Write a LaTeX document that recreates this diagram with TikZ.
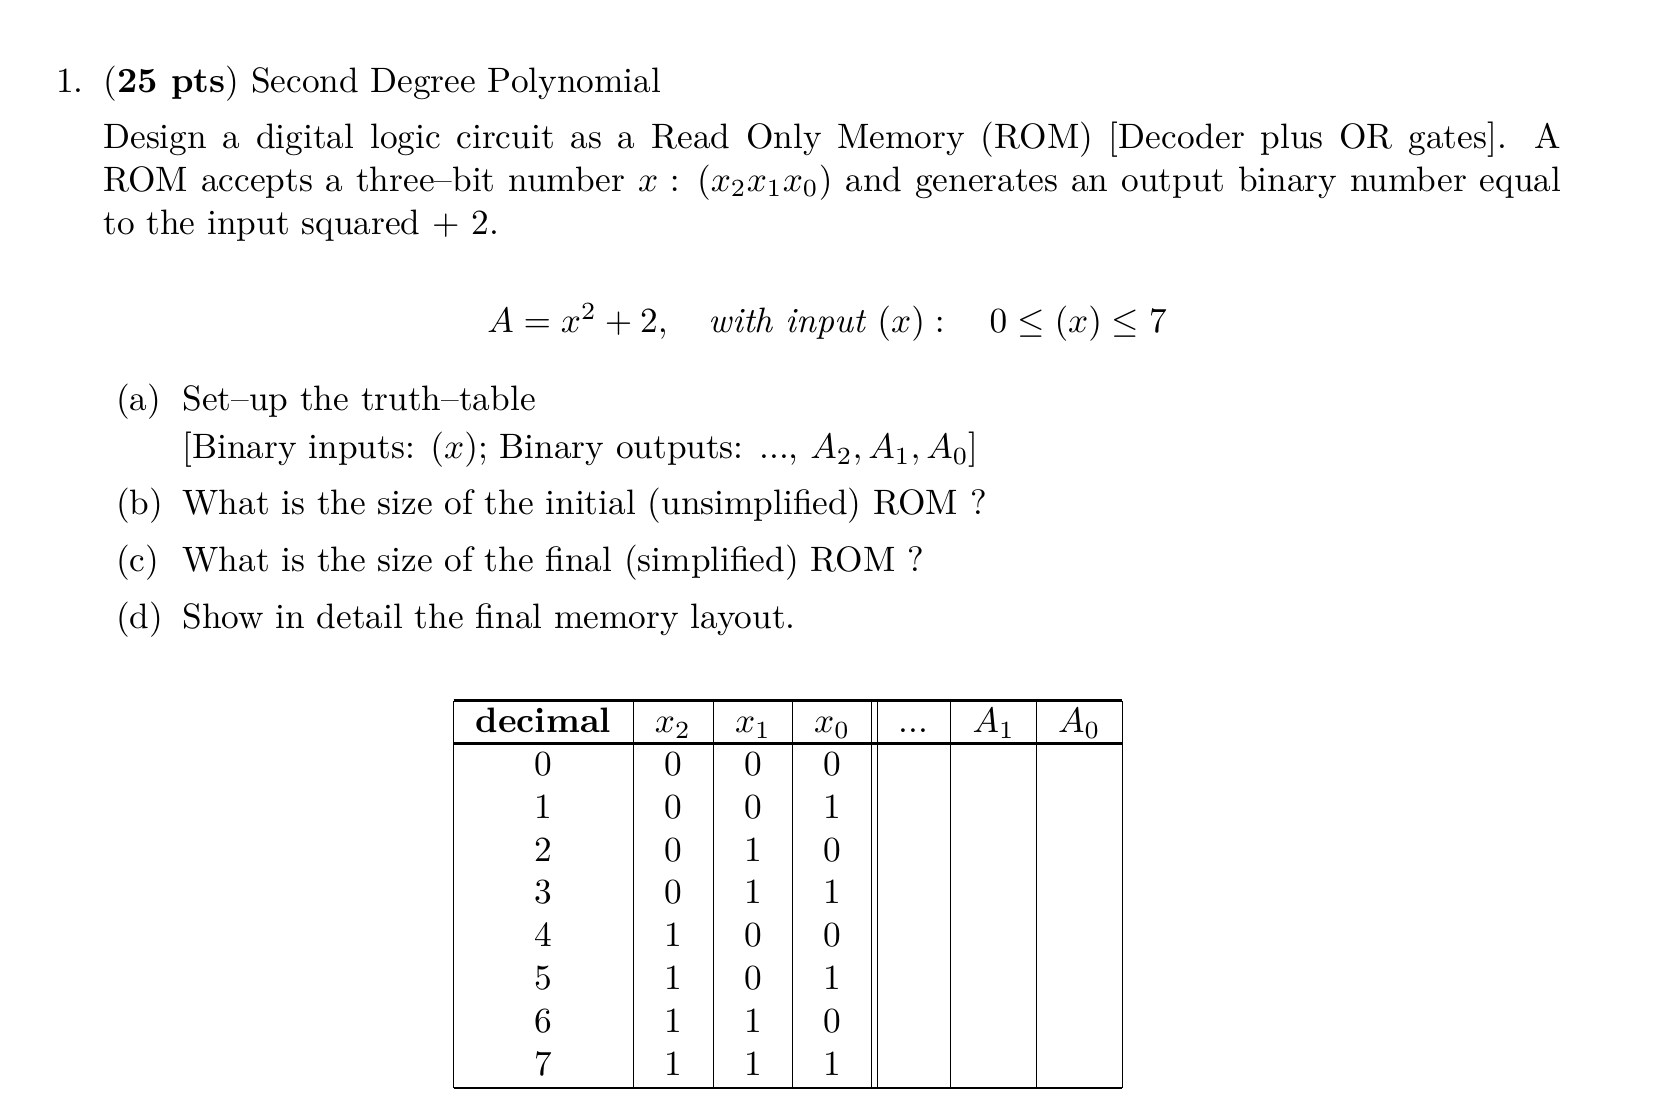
\documentclass[tikz,border=0pt]{standalone}
\usepackage{amsmath}
\begin{document}
\begin{tikzpicture}[x=0.5pt,y=-0.5pt,
  txt/.style={anchor=base west,inner sep=0pt,scale=1.65,transform shape,font=\fontsize{10}{12}\selectfont},
  cell/.style={anchor=base,inner sep=0pt,scale=1.65,transform shape,font=\fontsize{10}{12}\selectfont},
  thick rule/.style={line width=1.2pt},
  thin rule/.style={line width=0.5pt}]
\useasboundingbox (0,0) rectangle (1550,1040);
\node[txt] (n1) at (52,86) {1.};
\node[txt] (title) at (96,86) {(\textbf{25 pts}) Second Degree Polynomial};
\node[txt,text width=413pt,align=justify,font=\fontsize{10}{12.12}\selectfont] (para) at (96,139) {Design a digital logic circuit as a Read Only Memory (ROM) [Decoder plus OR gates]. A\linebreak ROM accepts a three--bit number $x:\,(x_2x_1x_0)$ and generates an output binary number equal\linebreak to the input squared $+$ 2.};
\node[txt] (eq) at (455,311) {$A = x^2+2,\quad \textit{with input } (x):\quad 0 \le (x) \le 7$};
\node[txt] (la) at (108,384) {(a)};
\node[txt] (ta) at (170,384) {Set--up the truth--table};
\node[txt] (ta2) at (170,429) {[Binary inputs: $(x)$; Binary outputs: ..., $A_2,A_1,A_0$]};
\node[txt] (lb) at (108,481) {(b)};
\node[txt] (tb) at (170,481) {What is the size of the initial (unsimplified) ROM ?};
\node[txt] (lc) at (108,534) {(c)};
\node[txt] (tc) at (170,534) {What is the size of the final (simplified) ROM ?};
\node[txt] (ld) at (108,588) {(d)};
\node[txt] (td) at (170,588) {Show in detail the final memory layout.};
% table
\draw[thick rule] (424,655) -- (1049,655);
\draw[thick rule] (424,695) -- (1049,695);
\draw[thick rule] (424,1017) -- (1049,1017);
\foreach \x in {424,592,667,741,815,820,889,969,1049}
  \draw[thin rule] (\x,655) -- (\x,1017);
\node[cell] (h0) at (508,685) {\textbf{decimal}};
\node[cell] (h1) at (629,685) {$x_2$};
\node[cell] (h2) at (704,685) {$x_1$};
\node[cell] (h3) at (778,685) {$x_0$};
\node[cell] (h4) at (854,685) {...};
\node[cell] (h5) at (929,685) {$A_1$};
\node[cell] (h6) at (1009,685) {$A_0$};
\foreach \d/\a/\b/\c [count=\i from 0] in {0/0/0/0,1/0/0/1,2/0/1/0,3/0/1/1,4/1/0/0,5/1/0/1,6/1/1/0,7/1/1/1}{
  \node[cell] (d\i) at (508,725+40*\i) {\d};
  \node[cell] (a\i) at (629,725+40*\i) {\a};
  \node[cell] (b\i) at (704,725+40*\i) {\b};
  \node[cell] (c\i) at (778,725+40*\i) {\c};
}
\end{tikzpicture}
\end{document}
